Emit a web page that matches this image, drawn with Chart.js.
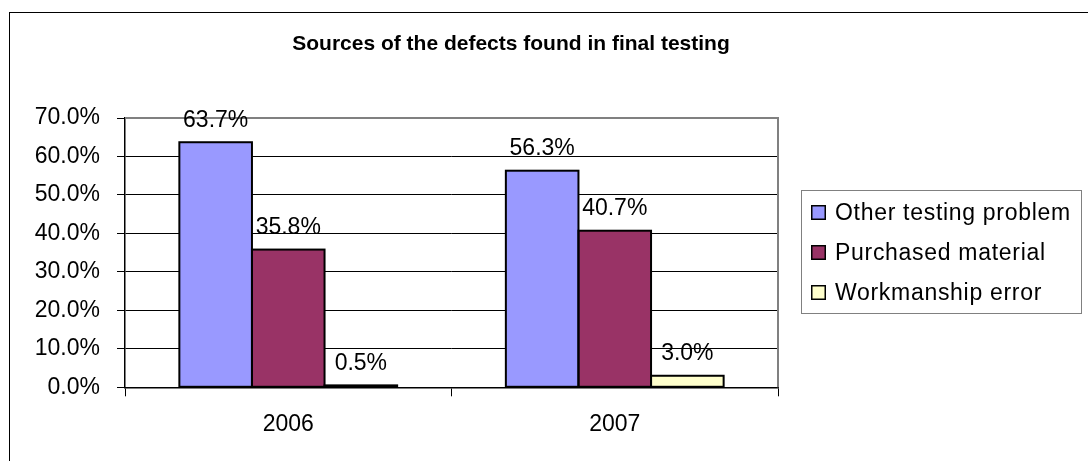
<!DOCTYPE html>
<html><head><meta charset="utf-8">
<script src="https://cdn.jsdelivr.net/npm/chart.js@4.4.1/dist/chart.umd.min.js"></script>
<style>
html,body{margin:0;padding:0;background:#fff;overflow:hidden;}
#wrap{position:relative;width:1088px;height:461px;overflow:hidden;}
#frame{position:absolute;left:9px;top:12px;width:1200px;height:600px;border:1px solid #000;box-sizing:border-box;}
canvas{position:absolute;left:0;top:0;}
</style></head><body>
<div id="wrap"><div id="frame"></div><canvas id="c" width="1088" height="461"></canvas></div>
<script>
const titleText = 'Sources of the defects found in final testing';
const categories = ['2006', '2007'];
const seriesNames = ['Other testing problem', 'Purchased material', 'Workmanship error'];
const otherTesting = [63.7, 56.3];
const purchased = [35.8, 40.7];
const workmanship = [0.5, 3.0];
const yTicks = [0, 10, 20, 30, 40, 50, 60, 70];
const seriesColors = ['#9999FF', '#993366', '#FFFFCC'];

const FONT = "'Liberation Sans', Arial, sans-serif";
const fmt = v => v.toFixed(1) + '%';

const titlePlugin = {
  id: 'xlTitle',
  afterDraw(chart) {
    const ctx = chart.ctx;
    ctx.save();
    ctx.font = 'bold 21px ' + FONT;
    ctx.fillStyle = '#000';
    ctx.textAlign = 'center';
    ctx.textBaseline = 'middle';
    ctx.fillText(titleText, 511, 44);
    ctx.restore();
  }
};

const plotBorderPlugin = {
  id: 'plotBorder',
  beforeDatasetsDraw(chart) {
    const a = chart.chartArea, ctx = chart.ctx;
    ctx.save();
    ctx.strokeStyle = '#808080';
    ctx.lineWidth = 2;
    ctx.beginPath();
    ctx.moveTo(a.left, a.top);
    ctx.lineTo(a.right, a.top);
    ctx.lineTo(a.right, a.bottom);
    ctx.stroke();
    ctx.restore();
  }
};

const labelPlugin = {
  id: 'barLabels',
  afterDatasetsDraw(chart) {
    const ctx = chart.ctx;
    ctx.save();
    // Excel-style outline centred on each bar edge (visible even for very short bars)
    ctx.strokeStyle = '#000';
    ctx.lineWidth = 2;
    chart.data.datasets.forEach((ds, i) => {
      chart.getDatasetMeta(i).data.forEach(bar => {
        const p = bar.getProps(['x', 'y', 'base', 'width'], true);
        ctx.strokeRect(p.x - p.width / 2, p.y, p.width, p.base - p.y);
      });
    });
    ctx.font = '23px ' + FONT;
    ctx.fillStyle = '#000';
    ctx.textAlign = 'center';
    ctx.textBaseline = 'middle';
    chart.data.datasets.forEach((ds, i) => {
      const meta = chart.getDatasetMeta(i);
      meta.data.forEach((bar, j) => {
        ctx.fillText(fmt(ds.data[j]), bar.x, bar.y - 22);
      });
    });
    ctx.restore();
  }
};

const legendPlugin = {
  id: 'xlLegend',
  afterDraw(chart) {
    const ctx = chart.ctx;
    ctx.save();
    ctx.strokeStyle = '#808080';
    ctx.lineWidth = 1;
    ctx.strokeRect(801.5, 190.5, 280, 123);
    ctx.font = '23px ' + FONT;
    try { ctx.letterSpacing = '0.7px'; } catch (e) {}
    ctx.textAlign = 'left';
    ctx.textBaseline = 'middle';
    chart.data.datasets.forEach((ds, i) => {
      const cy = 212.5 + i * 40;
      ctx.fillStyle = ds.backgroundColor;
      ctx.fillRect(811, cy - 7.5, 15, 15);
      ctx.strokeStyle = '#000';
      ctx.lineWidth = 1.5;
      ctx.strokeRect(811.75, cy - 6.75, 13.5, 13.5);
      ctx.fillStyle = '#000';
      ctx.fillText(ds.label, 835, cy + 1);
    });
    ctx.restore();
  }
};

new Chart(document.getElementById('c'), {
  type: 'bar',
  data: {
    labels: categories,
    datasets: [
      { label: seriesNames[0], data: otherTesting, backgroundColor: seriesColors[0] },
      { label: seriesNames[1], data: purchased, backgroundColor: seriesColors[1] },
      { label: seriesNames[2], data: workmanship, backgroundColor: seriesColors[2] }
    ]
  },
  options: {
    responsive: false,
    animation: false,
    devicePixelRatio: 1,
    layout: { padding: { left: 0, top: 118, right: 310, bottom: 0 } },
    datasets: {
      bar: {
        categoryPercentage: 0.667,
        barPercentage: 1.0,
        borderWidth: 0
      }
    },
    plugins: {
      legend: { display: false },
      title: { display: false },
      tooltip: { enabled: false }
    },
    scales: {
      x: {
        grid: {
          offset: true,
          drawOnChartArea: false,
          drawTicks: true,
          tickLength: 9,
          color: '#000',
          tickColor: '#000'
        },
        border: { display: true, color: '#000', width: 1.5 },
        ticks: {
          color: '#000',
          font: { family: FONT, size: 23 },
          padding: 15
        },
        afterFit(scale) { scale.height = 461 - 387.3; }
      },
      y: {
        min: 0,
        max: 70,
        afterBuildTicks(scale) { scale.ticks = yTicks.map(v => ({ value: v })); },
        grid: {
          color: c => (c.tick && c.tick.value === 70) ? '#808080' : '#000',
          tickColor: '#000',
          tickLength: 8,
          lineWidth: 1
        },
        border: { display: true, color: '#000', width: 1.5 },
        ticks: {
          color: '#000',
          font: { family: FONT, size: 23 },
          padding: 17,
          callback: v => fmt(v)
        },
        afterFit(scale) { scale.width = 125; }
      }
    }
  },
  plugins: [plotBorderPlugin, labelPlugin, titlePlugin, legendPlugin]
});
</script>
</body></html>
